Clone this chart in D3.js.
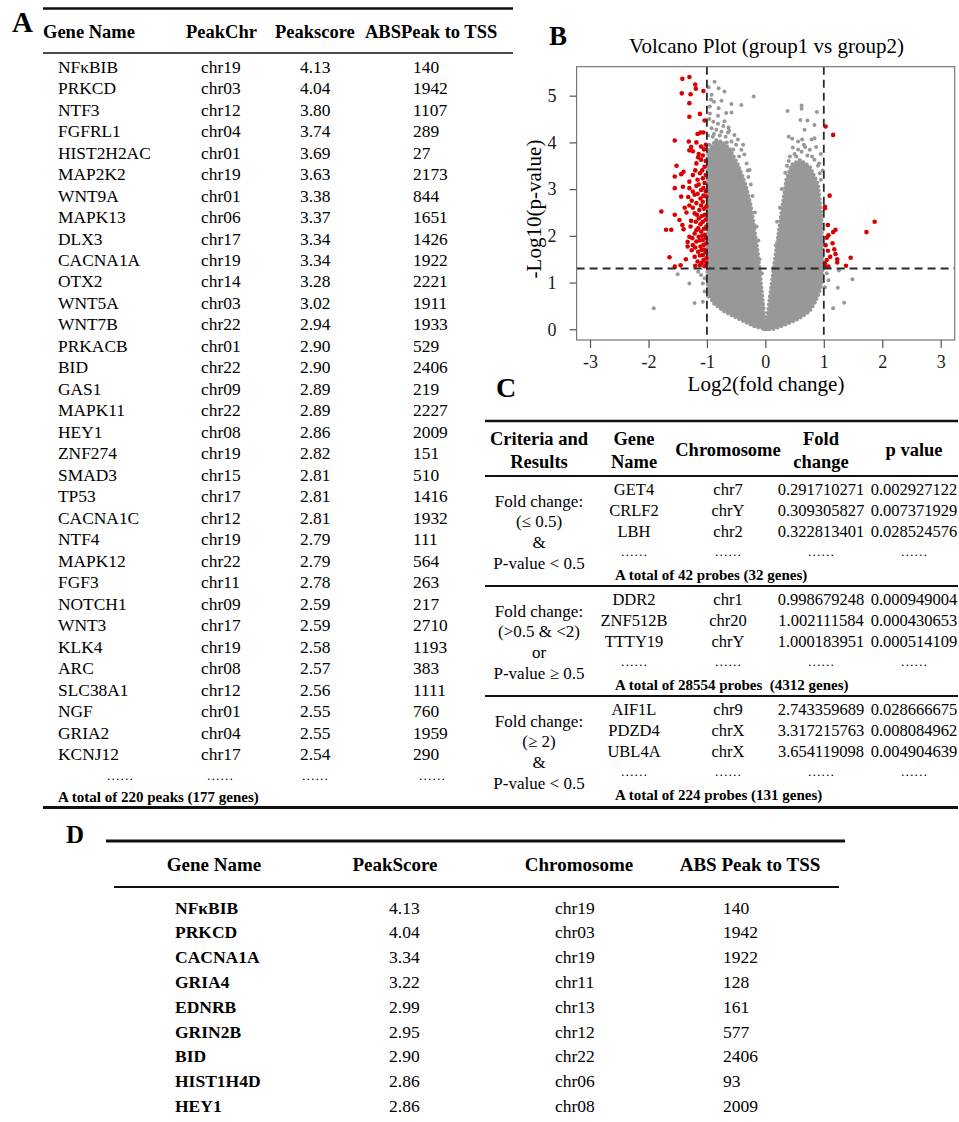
<!DOCTYPE html>
<html>
<head>
<meta charset="utf-8">
<script src="https://cdn.jsdelivr.net/npm/d3@7"></script>
<style>
  body { margin: 0; background: #fff; }
  svg { display: block; font-family: "Liberation Serif", "Times New Roman", serif; }
  svg text { white-space: pre; }
  .plabel { font-weight: bold; }
  .hdr { font-weight: bold; }
</style>
</head>
<body>
<div class="fig"></div>
<script>
// ---- panel A data
const genesA = ["NFκBIB","PRKCD","NTF3","FGFRL1","HIST2H2AC","MAP2K2","WNT9A","MAPK13","DLX3","CACNA1A","OTX2","WNT5A","WNT7B","PRKACB","BID","GAS1","MAPK11","HEY1","ZNF274","SMAD3","TP53","CACNA1C","NTF4","MAPK12","FGF3","NOTCH1","WNT3","KLK4","ARC","SLC38A1","NGF","GRIA2","KCNJ12"];
const chrA = ["chr19","chr03","chr12","chr04","chr01","chr19","chr01","chr06","chr17","chr19","chr14","chr03","chr22","chr01","chr22","chr09","chr22","chr08","chr19","chr15","chr17","chr12","chr19","chr22","chr11","chr09","chr17","chr19","chr08","chr12","chr01","chr04","chr17"];
const scoreA = [4.13,4.04,3.80,3.74,3.69,3.63,3.38,3.37,3.34,3.34,3.28,3.02,2.94,2.90,2.90,2.89,2.89,2.86,2.82,2.81,2.81,2.81,2.79,2.79,2.78,2.59,2.59,2.58,2.57,2.56,2.55,2.55,2.54];
const absA = [140,1942,1107,289,27,2173,844,1651,1426,1922,2221,1911,1933,529,2406,219,2227,2009,151,510,1416,1932,111,564,263,217,2710,1193,383,1111,760,1959,290];
const headersA = ["Gene Name","PeakChr","Peakscore","ABSPeak to TSS"];
const totalA = "A total of 220 peaks (177 genes)";

// ---- panel B data (log2 fold change, -log10 p)
const redPts = [
  [-1.42,5.36],[-1.30,5.40],[-1.20,5.24],[-1.19,5.15],[-1.06,5.10],[-1.43,5.05],[-1.28,5.03],[-1.30,4.84],[-1.12,4.61],[-1.30,4.55],[-1.04,4.47],[-1.16,4.18],[-1.11,4.21],[-1.06,4.21],
  [-1.55,4.04],[-1.31,4.02],[-1.18,4.00],[-1.27,3.90],[-1.30,3.83],[-1.24,3.81],[-1.10,3.91],[-1.14,3.75],[-1.07,3.72],[-1.10,3.63],[-1.18,3.55],[-1.04,3.48],[-1.52,3.50],[-1.40,3.37],[-1.55,3.27],[-1.24,3.30],[-1.12,3.34],[-1.07,3.23],[-1.44,3.32],[-1.30,3.16],[-1.16,3.20],[-1.55,3.02],[-1.41,3.05],[-1.30,3.02],[-1.18,3.07],[-1.10,2.98],[-1.04,3.13],[-1.44,2.84],[-1.32,2.83],[-1.21,2.88],[-1.11,2.80],[-1.01,2.84],
  [-1.18,2.70],[-1.07,2.73],[-1.01,2.63],[-1.13,2.55],[-1.21,2.48],[-1.04,2.45],[-1.14,2.37],[-1.07,2.30],[-1.01,2.20],[-1.15,2.16],[-1.10,2.09],[-1.21,2.05],[-1.04,2.02],[-1.14,1.98],[-1.07,1.91],[-1.01,1.84],[-1.18,1.88],[-1.11,1.77],[-1.04,1.70],[-1.15,1.66],[-1.07,1.59],[-1.01,1.52],[-1.16,1.45],[-1.12,1.37],[-1.04,1.35],
  [-1.78,2.52],[-1.70,2.13],[-1.61,2.13],[-1.42,2.23],[-1.40,2.14],[-1.27,2.32],[-1.33,1.87],[-1.30,1.98],[-1.24,1.80],[-1.64,1.54],[-1.36,1.50],[-1.45,1.37],[-1.55,1.34],[-1.26,1.69],[-1.33,1.77],[-1.47,2.34],[-1.55,2.45],
  [-1.02,3.95],[-1.05,3.85],[-1.15,3.68],[-1.02,3.60],[-1.08,3.40],[-1.20,3.40],[-1.02,3.30],[-1.14,3.10],[-1.06,3.02],[-1.24,2.95],[-1.02,2.95],[-1.16,2.90],[-1.06,2.86],[-1.26,2.75],[-1.10,2.65],[-1.24,2.60],[-1.05,2.58],[-1.17,2.45],[-1.09,2.42],[-1.02,2.35],[-1.19,2.30],[-1.11,2.25],[-1.05,2.15],[-1.18,2.12],[-1.08,2.00],[-1.25,1.95],[-1.02,1.95],[-1.12,1.90],[-1.06,1.80],[-1.20,1.75],[-1.09,1.70],[-1.02,1.65],[-1.12,1.58],[-1.21,1.55],[-1.06,1.48],[-1.09,1.42],[-1.01,1.42],[-1.20,1.36],[-1.30,2.65],[-1.35,2.50],[-1.28,2.20],[-1.38,2.60],
  [1.03,4.34],[1.16,4.16],[1.10,2.86],[1.02,2.59],[1.02,2.62],[1.07,2.23],[1.20,2.13],[1.16,2.08],[1.08,2.01],[1.05,1.96],[1.87,2.30],[1.73,2.08],[1.15,1.84],[1.03,1.80],[1.18,1.71],[1.07,1.68],[1.20,1.61],[1.46,1.53],[1.23,1.50],[1.11,1.55],[1.05,1.48],[1.23,1.43],[1.38,1.36],[1.02,1.41],[1.08,1.34],[1.03,1.34]
];
const greyPts = [
  [-0.87,5.30],[-0.80,5.16],[-0.70,5.09],[-0.20,4.98],[-0.92,5.02],[-0.88,4.87],[-0.75,4.89],[-0.58,4.82],[-0.41,4.80],[-0.95,4.77],[-0.80,4.73],[-0.67,4.63],[-0.58,4.64],[-0.95,4.62],[-0.81,4.57],[-0.89,4.44],[-0.81,4.40],[-0.72,4.35],[-0.63,4.32],[-0.84,4.27],[-0.75,4.23],[-0.64,4.21],[-0.53,4.16],[-0.47,4.06],[-0.38,3.95],[-0.58,4.02],[-0.41,3.84],[-0.36,3.74],[-0.32,3.55],[-0.27,3.41],[-0.29,3.26],[-0.96,4.50],[-0.92,4.30],[-0.98,4.15],[-0.90,4.12],[-0.68,4.12],[-0.97,5.18],[-0.93,4.92],
  [-0.96,3.95],[-0.88,4.18],[-0.78,4.15],[-0.66,4.00],[-0.55,3.85],[-0.45,3.70],[-0.62,4.25],[-0.50,3.95],[-0.70,4.45],
  [-0.30,3.40],[-0.25,3.10],[-0.22,2.85],[-0.18,2.50],[-0.15,2.20],[-0.12,1.90],[-0.10,1.50],[-0.06,1.20],
  [0.38,4.67],[0.62,4.79],[0.62,4.72],[0.88,4.65],[0.60,4.48],[0.72,4.47],[0.84,4.37],[0.67,4.27],[0.40,4.12],[0.46,4.08],[0.56,4.02],[0.63,4.06],[0.79,4.06],[0.84,4.09],[0.47,3.89],[0.56,3.85],[0.68,3.90],[0.76,3.84],[0.87,3.90],[0.42,3.70],[0.53,3.70],[0.84,3.63],[0.90,3.50],[0.93,3.34],[0.72,3.72],[0.95,3.75],[0.37,3.50],[0.34,3.35],[0.95,3.20],
  [0.50,3.75],[0.62,3.80],[0.80,3.70],[0.92,3.55],[0.98,3.40],[0.40,3.60],[0.66,3.95],
  [0.28,3.00],[0.25,2.60],[0.20,2.30],[0.18,1.80],[0.13,1.30],[0.08,0.70],
  [-1.91,0.45],[-1.30,0.98],[-1.50,1.18],[-1.15,1.23],[-1.10,1.16],[-1.04,1.09],[-1.07,0.98],[-1.04,0.81],[-1.07,0.59],[-0.98,0.70],[-1.21,0.56],
  [1.26,1.26],[1.49,1.07],[1.24,0.89],[1.35,0.57],[1.16,0.45],[1.05,1.20],[1.02,0.90],[1.08,1.05]
];
// outline of the two dense grey clouds
const lobeLeft = [[0.02,0.0],[-0.18,0.06],[-0.45,0.22],[-0.70,0.38],[-0.88,0.55],[-0.97,0.75],[-0.99,1.0],[-0.99,1.3],[-0.99,2.5],[-0.99,3.7],[-0.95,3.85],[-0.85,4.05],[-0.72,4.0],[-0.61,3.85],[-0.48,3.55],[-0.40,3.3],[-0.33,3.05],[-0.26,2.7],[-0.21,2.34],[-0.13,1.63],[-0.07,0.91],[-0.02,0.3]];
const lobeRight = [[-0.02,0.0],[0.04,0.3],[0.10,0.9],[0.16,1.45],[0.22,2.0],[0.30,2.7],[0.36,3.2],[0.45,3.52],[0.59,3.62],[0.76,3.48],[0.90,3.1],[0.96,2.4],[0.98,1.3],[0.95,0.9],[0.86,0.6],[0.75,0.38],[0.56,0.22],[0.30,0.08],[0.12,0.0]];
const xTicksB = [-3,-2,-1,0,1,2,3];
const yTicksB = [0,1,2,3,4,5];
const fcCut = [-1, 1];
const pCut = 1.30;

// ---- panel C data
const headersC = [["Criteria and","Results"],["Gene","Name"],["Chromosome"],["Fold","change"],["p value"]];
const criteriaC = [
  ["Fold change:","(≤ 0.5)","&","P-value < 0.5"],
  ["Fold change:","(>0.5 & <2)","or","P-value ≥ 0.5"],
  ["Fold change:","(≥ 2)","&","P-value < 0.5"]
];
const genesC = [["GET4","CRLF2","LBH"],["DDR2","ZNF512B","TTTY19"],["AIF1L","PDZD4","UBL4A"]];
const chrC = [["chr7","chrY","chr2"],["chr1","chr20","chrY"],["chr9","chrX","chrX"]];
const foldC = [[0.291710271,0.309305827,0.322813401],[0.998679248,1.002111584,1.000183951],[2.743359689,3.317215763,3.654119098]];
const pvalC = [[0.002927122,0.007371929,0.028524576],[0.000949004,0.000430653,0.000514109],[0.028666675,0.008084962,0.004904639]];
const totalsC = ["A total of 42 probes (32 genes)","A total of 28554 probes  (4312 genes)","A total of 224 probes (131 genes)"];

// ---- panel D data
const genesD = ["NFκBIB","PRKCD","CACNA1A","GRIA4","EDNRB","GRIN2B","BID","HIST1H4D","HEY1"];
const scoreD = [4.13,4.04,3.34,3.22,2.99,2.95,2.90,2.86,2.86];
const chrD = ["chr19","chr03","chr19","chr11","chr13","chr12","chr22","chr06","chr08"];
const absD = [140,1942,1922,128,161,577,2406,93,2009];
const headersD = ["Gene Name","PeakScore","Chromosome","ABS Peak to TSS"];

const dots = "……";
const f2 = d3.format(".2f");
const f9 = d3.format(".9f");

const svg = d3.select(".fig").append("svg")
  .attr("width", 959).attr("height", 1122)
  .attr("viewBox", "0 0 959 1122");

function rule(g, x1, x2, y, w) {
  g.append("line").attr("x1", x1).attr("x2", x2).attr("y1", y).attr("y2", y)
    .attr("stroke", "#111").attr("stroke-width", w);
}

// ================= A =================
const pa = svg.append("g");
pa.append("text").attr("class", "plabel").text("A").attr("x", 12).attr("y", 32).attr("font-size", 29);
rule(pa, 43, 513, 8.5, 2.5);
rule(pa, 43, 513, 53, 1.6);

const colA = [58, 201, 300, 413];
const hdrA = [43, 186, 275, 365];
pa.selectAll("text.hdr").data(headersA).join("text")
  .attr("class", "hdr").text(d => d)
  .attr("x", (d, i) => hdrA[i]).attr("y", 32)
  .attr("dominant-baseline", "central").attr("font-size", 18.5);

const yA = d3.scalePoint().domain(d3.range(genesA.length)).range([66.7, 754]);
const rowA = pa.selectAll("g.row").data(genesA.map((g, i) => [g, chrA[i], f2(scoreA[i]), absA[i]]))
  .join("g").attr("class", "row")
  .attr("transform", (d, i) => `translate(0,${yA(i)})`);
rowA.selectAll("text").data(d => d).join("text")
  .text(d => d)
  .attr("x", (d, j) => colA[j])
  .attr("dominant-baseline", "central")
  .attr("font-size", 17.4);

// dots row + total
[120, 220, 315, 432].forEach(cx => {
  pa.append("text").text(dots).attr("x", cx).attr("y", 780)
    .attr("text-anchor", "middle").attr("font-size", 13.5);
});
pa.append("text").attr("class", "hdr").text(totalA).attr("x", 58).attr("y", 797)
  .attr("dominant-baseline", "central").attr("font-size", 15);
rule(pa, 43, 520, 807.5, 3);

// ================= B =================
const pb = svg.append("g");
pb.append("text").attr("class", "plabel").text("B").attr("x", 549).attr("y", 45).attr("font-size", 27);
pb.append("text").text("Volcano Plot (group1 vs group2)")
  .attr("x", 766.5).attr("y", 53).attr("text-anchor", "middle").attr("font-size", 21);

const x = d3.scaleLinear().domain([-3.23, 3.24]).range([576.6, 954.7]);
const y = d3.scaleLinear().domain([-0.23, 5.62]).range([340, 66.7]);

const plot = pb.append("g");
plot.append("clipPath").attr("id", "clipB").append("rect")
  .attr("x", x(-3.23)).attr("y", y(5.62))
  .attr("width", x(3.24) - x(-3.23)).attr("height", y(-0.23) - y(5.62));
const inner = plot.append("g").attr("clip-path", "url(#clipB)");

const grey = "#989898";
const lobe = d3.line().x(d => x(d[0])).y(d => y(d[1])).curve(d3.curveLinearClosed);
inner.selectAll("path.lobe").data([lobeLeft, lobeRight]).join("path")
  .attr("class", "lobe")
  .attr("d", lobe)
  .attr("fill", grey)
  .attr("stroke", grey).attr("stroke-width", 4.2)
  .attr("stroke-linecap", "round").attr("stroke-linejoin", "round")
  .attr("stroke-dasharray", "0,4.2");

inner.selectAll("circle.g").data(greyPts).join("circle")
  .attr("class", "g")
  .attr("cx", d => x(d[0])).attr("cy", d => y(d[1])).attr("r", 2)
  .attr("fill", grey);

inner.selectAll("circle.r").data(redPts).join("circle")
  .attr("class", "r")
  .attr("cx", d => x(d[0])).attr("cy", d => y(d[1])).attr("r", 2.3)
  .attr("fill", "#d80000");

// threshold lines
inner.selectAll("line.v").data(fcCut).join("line")
  .attr("class", "v")
  .attr("x1", d => x(d)).attr("x2", d => x(d))
  .attr("y1", y(5.62)).attr("y2", y(-0.23))
  .attr("stroke", "#2a2a2a").attr("stroke-width", 1.8).attr("stroke-dasharray", "8,5");
inner.append("line")
  .attr("x1", x(-3.23)).attr("x2", x(3.24))
  .attr("y1", y(pCut)).attr("y2", y(pCut))
  .attr("stroke", "#2a2a2a").attr("stroke-width", 1.8).attr("stroke-dasharray", "8,5");

// frame
plot.append("rect")
  .attr("x", x(-3.23)).attr("y", y(5.62))
  .attr("width", x(3.24) - x(-3.23)).attr("height", y(-0.23) - y(5.62))
  .attr("fill", "none").attr("stroke", "#777").attr("stroke-width", 1.2);

const xAxis = plot.append("g")
  .attr("transform", `translate(0,${y(-0.23)})`)
  .call(d3.axisBottom(x).tickValues(xTicksB).tickFormat(d => String(d)).tickSize(8).tickPadding(7));
const yAxis = plot.append("g")
  .attr("transform", `translate(${x(-3.23)},0)`)
  .call(d3.axisLeft(y).tickValues(yTicksB).tickFormat(d => String(d)).tickSize(7).tickPadding(13));
[xAxis, yAxis].forEach(ax => {
  ax.select(".domain").remove();
  ax.selectAll("line").attr("stroke", "#555").attr("stroke-width", 1.2);
  ax.selectAll("text").attr("font-size", 18).attr("fill", "#1a1a1a")
    .attr("font-family", "\"Liberation Serif\", \"Times New Roman\", serif");
});

pb.append("text").text("Log2(fold change)")
  .attr("x", 766).attr("y", 391).attr("text-anchor", "middle").attr("font-size", 21);
pb.append("text").text("-Log10(p-value)")
  .attr("transform", "translate(541,209) rotate(-90)")
  .attr("text-anchor", "middle").attr("font-size", 21);

// ================= C =================
const pc = svg.append("g");
pc.append("text").attr("class", "plabel").text("C").attr("x", 496).attr("y", 397).attr("font-size", 28);
rule(pc, 485, 958, 421, 2.5);
rule(pc, 485, 958, 476, 1.8);

const colC = [539, 634, 728, 821, 914];
pc.selectAll("g.hc").data(headersC).join("g").attr("class", "hc")
  .each(function(lines, i) {
    d3.select(this).selectAll("text").data(lines).join("text")
      .attr("class", "hdr").text(d => d)
      .attr("x", colC[i])
      .attr("y", (d, k) => lines.length === 1 ? 450 : 439 + k * 22.5)
      .attr("text-anchor", "middle").attr("dominant-baseline", "central")
      .attr("font-size", 18.5);
  });

const groupTop = d3.scaleLinear().domain([0, 1]).range([476, 586]);
criteriaC.forEach((crit, gi) => {
  const g = pc.append("g").attr("transform", `translate(0,${groupTop(gi)})`);
  g.selectAll("text.crit").data(crit).join("text")
    .attr("class", "crit").text(d => d)
    .attr("x", colC[0]).attr("y", (d, k) => 25 + k * 20.7)
    .attr("text-anchor", "middle").attr("dominant-baseline", "central")
    .attr("font-size", 17);
  const rows = genesC[gi].map((gn, r) => [gn, chrC[gi][r], f9(foldC[gi][r]), f9(pvalC[gi][r])]);
  g.selectAll("g.crow").data(rows).join("g").attr("class", "crow")
    .attr("transform", (d, r) => `translate(0,${13 + r * 21.3})`)
    .selectAll("text").data(d => d).join("text")
    .text(d => d)
    .attr("x", (d, j) => colC[j + 1])
    .attr("text-anchor", "middle").attr("dominant-baseline", "central")
    .attr("font-size", 16.5);
  colC.slice(1).forEach(cx => {
    g.append("text").text(dots).attr("x", cx).attr("y", 80)
      .attr("text-anchor", "middle").attr("font-size", 13.5);
  });
  g.append("text").attr("class", "hdr").text(totalsC[gi])
    .attr("x", 615).attr("y", 98.5).attr("dominant-baseline", "central")
    .attr("font-size", 15);
  if (gi > 0) rule(g, 485, 958, 0, 2);
});
rule(pc, 485, 958, 807.5, 3);

// ================= D =================
const pd = svg.append("g");
pd.append("text").attr("class", "plabel").text("D").attr("x", 66).attr("y", 843).attr("font-size", 25);
rule(pd, 106, 845, 841, 2.8);
rule(pd, 114, 839, 887, 1.8);

const hdrD = [214, 395, 579, 750];
pd.selectAll("text.hd").data(headersD).join("text")
  .attr("class", "hdr").text(d => d)
  .attr("x", (d, i) => hdrD[i]).attr("y", 864)
  .attr("text-anchor", "middle").attr("dominant-baseline", "central")
  .attr("font-size", 19);

const colD = [175, 389, 555, 723];
const yD = d3.scalePoint().domain(d3.range(genesD.length)).range([907.5, 1106]);
pd.selectAll("g.drow").data(genesD.map((g, i) => [g, f2(scoreD[i]), chrD[i], absD[i]]))
  .join("g").attr("class", "drow")
  .attr("transform", (d, i) => `translate(0,${yD(i)})`)
  .selectAll("text").data(d => d).join("text")
  .text(d => d)
  .attr("x", (d, j) => colD[j])
  .attr("font-weight", (d, j) => j === 0 ? "bold" : "normal")
  .attr("dominant-baseline", "central")
  .attr("font-size", 17.5);
</script>
</body>
</html>
